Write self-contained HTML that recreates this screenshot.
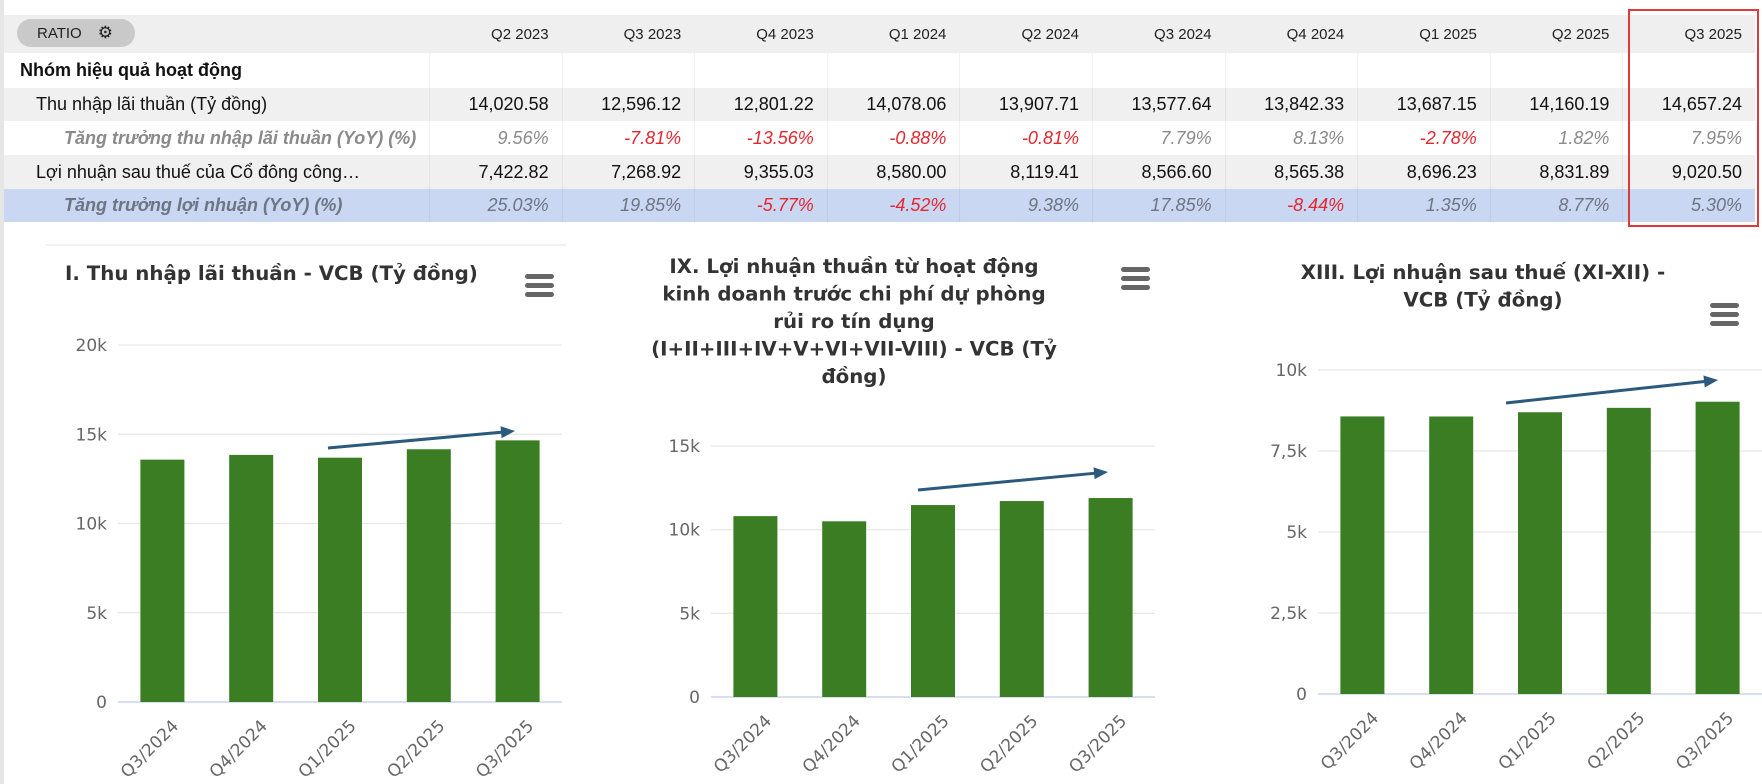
<!DOCTYPE html>
<html><head><meta charset="utf-8"><style>
body{margin:0;width:1762px;height:784px;background:#fff;position:relative;overflow:hidden;font-family:"Liberation Sans",Arial,sans-serif}
.c{position:absolute;box-sizing:border-box}
.row{position:absolute;left:4px;width:1751px;height:34px}
.cell{position:absolute;top:0;height:100%;display:flex;align-items:center;justify-content:flex-end;padding-right:13px;box-sizing:border-box;font-size:18px;color:#111;border-left:1px solid rgba(0,0,0,0.05)}
.lab{position:absolute;top:0;height:100%;display:flex;align-items:center;font-size:18px;color:#111}
.g{color:#8a8a8a;font-style:italic}
.r{color:#e3262f;font-style:italic}
.b{color:#6d7483;font-style:italic}
</style></head><body>
<div class="c" style="left:0;top:0;width:4px;height:784px;background:#e6e6e6"></div>
<div id="table"></div>
<div class="c" style="left:1628px;top:9px;width:131px;height:218px;border:2.5px solid #e0393b;z-index:2"></div>
<svg id="charts" width="1762" height="784" style="position:absolute;left:0;top:0"></svg>
<script>
const quarters=["Q2 2023","Q3 2023","Q4 2023","Q1 2024","Q2 2024","Q3 2024","Q4 2024","Q1 2025","Q2 2025","Q3 2025"];
const nii=["14,020.58","12,596.12","12,801.22","14,078.06","13,907.71","13,577.64","13,842.33","13,687.15","14,160.19","14,657.24"];
const niiG=["9.56%","-7.81%","-13.56%","-0.88%","-0.81%","7.79%","8.13%","-2.78%","1.82%","7.95%"];
const np=["7,422.82","7,268.92","9,355.03","8,580.00","8,119.41","8,566.60","8,565.38","8,696.23","8,831.89","9,020.50"];
const npG=["25.03%","19.85%","-5.77%","-4.52%","9.38%","17.85%","-8.44%","1.35%","8.77%","5.30%"];
const T=document.getElementById('table');
const rows=[
 {y:15,h:38,bg:"#efeff0",label:null,vals:quarters,cls:"hdr"},
 {y:53,h:35,bg:"#fff",label:"Nhóm hiệu quả hoạt động",vals:null,cls:"grp"},
 {y:88,h:33,bg:"#f0f0f1",label:"Thu nhập lãi thuần (Tỷ đồng)",vals:nii,cls:"v"},
 {y:121,h:34,bg:"#fff",label:"Tăng trưởng thu nhập lãi thuần (YoY) (%)",vals:niiG,cls:"gr"},
 {y:155,h:34,bg:"#f0f0f1",label:"Lợi nhuận sau thuế của Cổ đông công…",vals:np,cls:"v"},
 {y:189,h:33,bg:"#c9d7f2",label:"Tăng trưởng lợi nhuận (YoY) (%)",vals:npG,cls:"gb"}];
rows.forEach((r,ri)=>{
 const d=document.createElement('div');d.className='row';
 
 
 d.style.top=r.y+'px';d.style.height=r.h+'px';d.style.background=r.bg;
 if(r.cls==='hdr'){
  const p=document.createElement('div');
  
  
  p.style.cssText='position:absolute;left:13px;top:4px;width:118px;height:28px;border-radius:14px;background:#c9c9c9;font-size:15px;color:#222;display:flex;align-items:center;padding-left:20px;box-sizing:border-box';
  p.innerHTML='RATIO <span style="margin-left:16px;font-size:17px">⚙</span>';
  d.appendChild(p);
 }
 if(r.label){const l=document.createElement('div');l.className='lab';
  
  
  l.textContent=r.label;
  if(r.cls==='grp'){l.style.left='16px';l.style.fontWeight='bold';}
  else if(r.cls==='v'){l.style.left='32px';}
  else{l.style.left='60px';l.style.fontWeight='bold';l.style.fontStyle='italic';l.style.color=r.cls==='gb'?'#6d7483':'#8a8a8a';}
  d.appendChild(l);}
 for(let i=0;i<10;i++){const c=document.createElement('div');c.className='cell';
  
  
  c.style.left=(425+i*132.6)+'px';c.style.width='132.6px';
  if(r.vals){const v=r.vals[i];c.textContent=v;
   if(r.cls==='hdr'){c.style.fontSize='15px';c.style.color='#222';c.style.borderLeft='none';}
   if(r.cls==='gr'||r.cls==='gb'){c.className+=' '+(v[0]==='-'?'r':(r.cls==='gb'?'b':'g'));}
  }
  d.appendChild(c);}
 T.appendChild(d);
});

const cats=["Q3/2024","Q4/2024","Q1/2025","Q2/2025","Q3/2025"];
const nimVals=[13577.64,13842.33,13687.15,14160.19,14657.24];
const opVals=[10810,10500,11470,11710,11890];
const npVals=[8566.60,8565.38,8696.23,8831.89,9020.50];
const ticks1=[0,5000,10000,15000,20000];const tickLab1=["0","5k","10k","15k","20k"];
const ticks2=[0,5000,10000,15000];const tickLab2=["0","5k","10k","15k"];
const ticks3=[0,2500,5000,7500,10000];const tickLab3=["0","2,5k","5k","7,5k","10k"];
const S=document.getElementById('charts');const NS='http://www.w3.org/2000/svg';
function el(t,a,p){const e=document.createElementNS(NS,t);for(const k in a)e.setAttribute(k,a[k]);(p||S).appendChild(e);return e;}
function chart(cfg){
 const g=el('g',{});
 
 
 const y=v=>cfg.y0-(v/cfg.max)*(cfg.y0-cfg.ytop);
 const bw=(cfg.x1-cfg.x0)/cats.length;
 cfg.ticks.forEach((t,i)=>{
  const ln=el('line',{x1:cfg.x0,x2:cfg.x1,y1:y(t),y2:y(t),stroke:t===0?'#ccd6eb':'#e6e6e6','stroke-width':t===0?1.5:1.2},g);
  
  
  const tx=el('text',{x:cfg.x0-11,y:y(t)+6,'text-anchor':'end','font-size':17,fill:'#666','font-family':'DejaVu Sans, sans-serif'},g);
  tx.textContent=cfg.labels[i];
  
  
 });
 cfg.vals.forEach((v,i)=>{
  const x=cfg.x0+i*bw+bw/2;
  const r=el('rect',{x:x-22,y:y(v),width:44,height:cfg.y0-y(v),fill:'#3a7d22'},g);
  
  
  const lx=x+17,ly=cfg.y0+25;
  const tx=el('text',{x:lx,y:ly,'text-anchor':'end','font-size':17,fill:'#666','font-family':'DejaVu Sans, sans-serif',transform:`rotate(-45 ${lx} ${ly})`},g);
  tx.textContent=cats[i];
  
  
 });
 cfg.title.forEach((t,i)=>{
  const tx=el('text',{x:cfg.tx,y:cfg.ty+i*27.5,'text-anchor':cfg.anchor,'font-size':19.8,'font-weight':'bold',fill:'#333','font-family':'DejaVu Sans, sans-serif'},g);
  tx.textContent=t;
  
  
 });
 const m=el('g',{},g);
 
 
 for(let k=0;k<3;k++)el('rect',{x:cfg.mx,y:cfg.my-10+k*9,width:29,height:5,rx:2.5,fill:'#666'},m);
 const a=cfg.arrow;
 const ar=el('g',{},g);
 
 
 const ang=Math.atan2(a[3]-a[1],a[2]-a[0]);
 el('line',{x1:a[0],y1:a[1],x2:a[2]-10*Math.cos(ang),y2:a[3]-10*Math.sin(ang),stroke:'#2b5a7c','stroke-width':3},ar);
 const hx=a[2],hy=a[3];
 const p1=[hx-14*Math.cos(ang)+6*Math.sin(ang),hy-14*Math.sin(ang)-6*Math.cos(ang)];
 const p2=[hx-14*Math.cos(ang)-6*Math.sin(ang),hy-14*Math.sin(ang)+6*Math.cos(ang)];
 el('polygon',{points:`${hx},${hy} ${p1} ${p2}`,fill:'#2b5a7c'},ar);
}
const topLine=el('line',{x1:46,x2:566,y1:245,y2:245,stroke:'#eeeeee','stroke-width':1.5});


chart({name:'chart-net-interest-income',x0:118,x1:562,y0:702,ytop:345,max:20000,ticks:ticks1,labels:tickLab1,vals:nimVals,
 title:["I. Thu nhập lãi thuần - VCB (Tỷ đồng)"],tx:65,ty:280,anchor:'start',mx:525,my:284,arrow:[328,448,515,431]});
chart({name:'chart-operating-profit',x0:711,x1:1155,y0:697,ytop:446,max:15000,ticks:ticks2,labels:tickLab2,vals:opVals,
 title:["IX. Lợi nhuận thuần từ hoạt động","kinh doanh trước chi phí dự phòng","rủi ro tín dụng","(I+II+III+IV+V+VI+VII-VIII) - VCB (Tỷ","đồng)"],tx:854,ty:273,anchor:'middle',mx:1121,my:277,arrow:[918,490,1108,472]});
chart({name:'chart-net-profit',x0:1318,x1:1762,y0:694,ytop:370,max:10000,ticks:ticks3,labels:tickLab3,vals:npVals,
 title:["XIII. Lợi nhuận sau thuế (XI-XII) -","VCB (Tỷ đồng)"],tx:1483,ty:279,anchor:'middle',mx:1710,my:313,arrow:[1506,403,1718,380]});
</script>
</body></html>
